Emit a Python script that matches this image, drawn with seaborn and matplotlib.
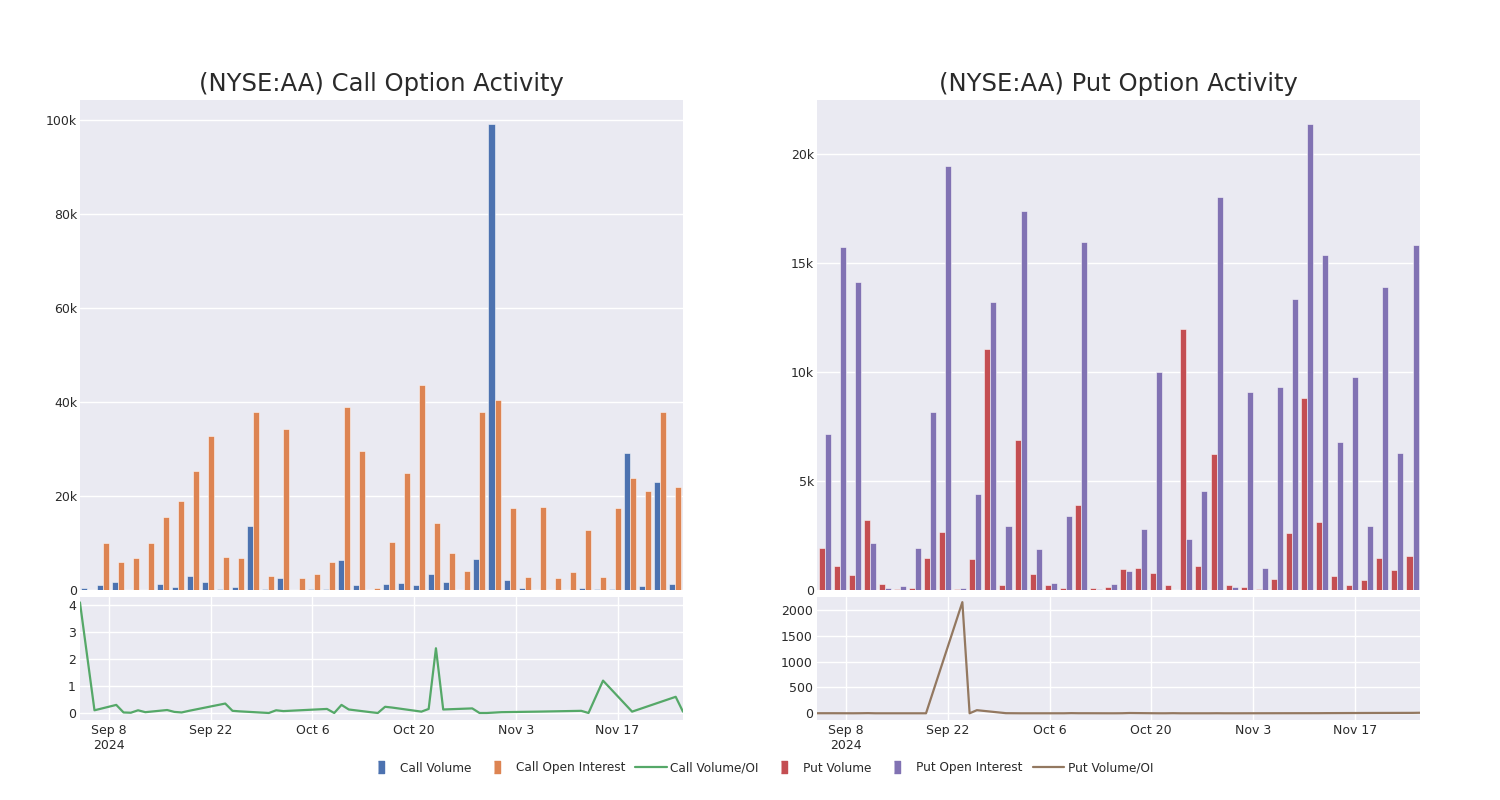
import pandas as pd
import matplotlib
matplotlib.use("Agg")
import matplotlib.pyplot as plt
import matplotlib.ticker as mticker
from matplotlib.lines import Line2D
import seaborn as sns

# 거래일 (40개)
dates = ['2024-09-04', '2024-09-06', '2024-09-09', '2024-09-10', '2024-09-11',
         '2024-09-12', '2024-09-13', '2024-09-16', '2024-09-17', '2024-09-18',
         '2024-09-19', '2024-09-24', '2024-09-25', '2024-09-26', '2024-09-30',
         '2024-10-01', '2024-10-02', '2024-10-08', '2024-10-09', '2024-10-10',
         '2024-10-11', '2024-10-14', '2024-10-15', '2024-10-16', '2024-10-17',
         '2024-10-21', '2024-10-22', '2024-10-23', '2024-10-24', '2024-10-28',
         '2024-10-29', '2024-10-30', '2024-11-01', '2024-11-06', '2024-11-12',
         '2024-11-13', '2024-11-15', '2024-11-19', '2024-11-25', '2024-11-26']

call_volume = [350, 1100, 1800, 100, 50, 1350, 600, 3000, 1800, 150,
               600, 13700, 150, 2500, 0, 300, 300, 6400, 1100, 70,
               1300, 1500, 1100, 3300, 1600, 70, 6500, 99100, 2100, 350,
               0, 0, 20, 350, 150, 300, 29100, 900, 23000, 1350]
call_oi = [100, 10100, 5900, 6900, 9900, 15600, 19000, 25200, 32800, 7000,
           6700, 37800, 3000, 34300, 2500, 3400, 5900, 38900, 29600, 500,
           10300, 24800, 43600, 14300, 7800, 4000, 37800, 40400, 17400, 2800,
           17600, 2600, 3800, 12800, 2800, 17500, 23800, 21100, 37800, 21800]
call_ratio = [4.1, 0.1, 0.3, 0.02, 0.01, 0.1, 0.03, 0.11, 0.04, 0.02,
              0.08, 0.35, 0.08, 0.06, 0.0, 0.1, 0.07, 0.15, 0.0, 0.3,
              0.13, 0.03, 0.0, 0.23, 0.2, 0.05, 0.15, 2.4, 0.13, 0.17,
              0.0, 0.0, 0.03, 0.05, 0.08, 0.0, 1.2, 0.05, 0.6, 0.05]

put_volume = [1950, 1120, 700, 3220, 280, 50, 100, 1460, 2680, 30,
              1440, 11080, 230, 6870, 740, 210, 100, 3900, 80, 150,
              950, 1030, 800, 230, 11980, 1120, 6250, 210, 120, 30,
              490, 2600, 8810, 3100, 630, 250, 460, 1490, 900, 1560]
put_oi = [7170, 15740, 14130, 2150, 100, 180, 1950, 8170, 19460, 100,
          4430, 13230, 2940, 17400, 1870, 340, 3390, 16000, 30, 260,
          860, 2790, 10000, 0, 2360, 4540, 18040, 120, 9090, 1030,
          9320, 13380, 21410, 15360, 6800, 9790, 2930, 13920, 6300, 15830]
put_ratio = [1, 1, 0, 1, 3, 0, 0, 0, 0, 0,
             0, 2150, 0, 60, 2, 1, 0, 0, 3, 1,
             1, 0, 0, 1, 5, 0, 0, 2, 0, 0,
             1, 0, 0, 1, 2, 3, 4, 6, 8, 10]

# 축 눈금
date_ticks = ['2024-09-08', '2024-09-22', '2024-10-06', '2024-10-20', '2024-11-03', '2024-11-17']
date_tick_labels = ['Sep 8\n2024', 'Sep 22', 'Oct 6', 'Oct 20', 'Nov 3', 'Nov 17']

BLUE, ORANGE, GREEN = '#4C72B0', '#DD8452', '#55A868'
RED, PURPLE, BROWN = '#C44E52', '#8172B3', '#937860'
TEXT = '#2a2a2a'

sns.set_theme(style="darkgrid", rc={'axes.facecolor': '#EAEAF2', 'grid.color': 'white',
                                     'grid.linewidth': 1.0})
plt.rcParams['font.family'] = ['DejaVu Sans']

fig = plt.figure(figsize=(15, 8), dpi=100)

def k_fmt(v, pos):
    if v == 0:
        return '0'
    return f'{int(round(v / 1000))}k'

def draw_panel(left, title, vol, oi, ratio, names, colors, line_color,
               bar_max, bar_step, ratio_lim, ratio_ticks):
    ax = fig.add_axes([left, 0.2625, 0.402, 0.6125])
    ax2 = fig.add_axes([left, 0.1, 0.402, 0.15375])

    df = pd.DataFrame({'idx': range(len(vol)), names[0]: vol, names[1]: oi})
    df = df.melt(id_vars='idx', var_name='series', value_name='value')
    sns.barplot(data=df, x='idx', y='value', hue='series', palette=colors,
                saturation=1, width=0.8, edgecolor=(1, 1, 1, 0.6), linewidth=0.6,
                legend=False, ax=ax, errorbar=None)
    ax.set_xlim(-0.5, len(vol) - 0.5)
    ax.set_xticks(range(0, len(vol), 5))
    ax.set_xticklabels([])
    ax.set_ylim(0, bar_max)
    ax.yaxis.set_major_locator(mticker.MultipleLocator(bar_step))
    ax.yaxis.set_major_formatter(mticker.FuncFormatter(k_fmt))
    ax.set_xlabel('')
    ax.set_ylabel('')
    ax.tick_params(length=0, labelsize=9, colors=TEXT, pad=2)
    for s in ax.spines.values():
        s.set_visible(False)

    x = pd.to_datetime(dates)
    sns.lineplot(x=x, y=ratio, color=line_color, linewidth=1.6, ax=ax2)
    ax2.set_xlim(x[0], x[-1])
    ax2.set_ylim(*ratio_lim)
    ax2.set_yticks(ratio_ticks)
    ax2.set_xticks(pd.to_datetime(date_ticks))
    ax2.set_xticklabels(date_tick_labels)
    ax2.set_xlabel('')
    ax2.set_ylabel('')
    ax2.tick_params(length=0, labelsize=9, colors=TEXT, pad=3)
    for s in ax2.spines.values():
        s.set_visible(False)

    fig.text(left + 0.201, 0.895, title, ha='center', va='center', fontsize=17.5, color=TEXT)

draw_panel(0.0533, '(NYSE:AA) Call Option Activity', call_volume, call_oi, call_ratio,
           ['Call Volume', 'Call Open Interest'], [BLUE, ORANGE], GREEN,
           104200, 20000, (-0.26, 4.3), [0, 1, 2, 3, 4])
draw_panel(0.5447, '(NYSE:AA) Put Option Activity', put_volume, put_oi, put_ratio,
           ['Put Volume', 'Put Open Interest'], [RED, PURPLE], BROWN,
           22500, 5000, (-130, 2250), [0, 500, 1000, 1500, 2000])

# 범례: 막대는 세로 사각형, 선은 선
rect = [(-0.5, -1), (0.5, -1), (0.5, 1), (-0.5, 1)]
handles = [
    Line2D([], [], marker=rect, linestyle='none', markersize=9, color=BLUE),
    Line2D([], [], marker=rect, linestyle='none', markersize=9, color=ORANGE),
    Line2D([], [], color=GREEN, linewidth=1.6),
    Line2D([], [], marker=rect, linestyle='none', markersize=9, color=RED),
    Line2D([], [], marker=rect, linestyle='none', markersize=9, color=PURPLE),
    Line2D([], [], color=BROWN, linewidth=1.6),
]
labels = ['Call Volume', 'Call Open Interest', 'Call Volume/OI',
          'Put Volume', 'Put Open Interest', 'Put Volume/OI']
leg = fig.legend(handles, labels, loc='center', bbox_to_anchor=(0.506, 0.04), ncol=6,
                 frameon=False, fontsize=8.7, handlelength=2.6, columnspacing=0.8,
                 handletextpad=0.3)
for t in leg.get_texts():
    t.set_color(TEXT)

fig.savefig('out.png', dpi=100, facecolor='white')
